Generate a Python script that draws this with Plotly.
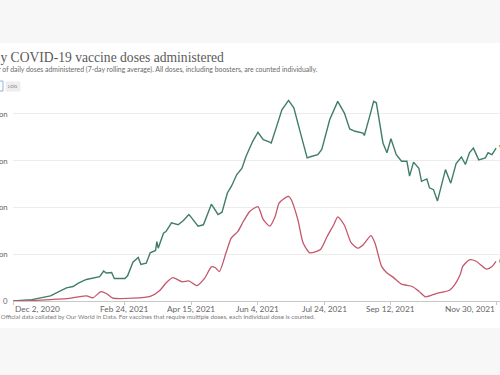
import plotly.graph_objects as go
import pandas as pd

START = pd.Timestamp("2020-12-02")

# days since Dec 2, 2020 and daily doses (millions), World
world_day = [0, 14, 28, 35, 40, 45, 49, 55, 65, 68, 70, 74, 76, 84, 86, 90, 94, 96, 100, 103,
             107, 108, 109, 113, 115, 119, 124, 128, 132, 133, 139, 143, 149, 154, 157, 161,
             164, 168, 172, 175, 180, 184, 188, 192, 194, 198, 202, 207, 211, 216, 221, 224,
             229, 232, 238, 244, 249, 253, 257, 263, 264, 268, 271, 273, 276, 278, 281, 284,
             288, 292, 296, 298, 301, 305, 307, 311, 313, 316, 319, 322, 325, 329, 333, 337,
             340, 343, 346, 350, 355, 357, 360, 362, 363]
world_val = [0.0, 0.3, 1.1, 2.0, 2.8, 3.1, 3.8, 4.6, 5.2, 6.4, 6.0, 6.1, 4.8, 4.8, 5.4, 8.3, 9.3,
             7.8, 8.1, 10.3, 10.8, 12.7, 11.3, 14.5, 14.9, 16.7, 16.3, 17.2, 18.5, 18.2, 16.0,
             16.3, 20.7, 18.5, 19.0, 23.1, 24.5, 27.0, 28.4, 30.9, 34.1, 36.1, 34.5, 34.1, 33.8,
             37.3, 40.9, 42.9, 41.3, 35.9, 30.6, 30.9, 31.3, 32.4, 38.8, 42.7, 40.2, 36.8, 36.3,
             35.9, 35.4, 39.5, 42.7, 42.4, 37.3, 33.8, 31.7, 34.7, 31.3, 29.9, 29.9, 26.7, 29.7,
             28.4, 25.6, 26.1, 24.2, 23.8, 21.4, 24.5, 28.1, 25.2, 29.4, 30.8, 29.2, 31.7, 32.7,
             30.2, 30.6, 31.7, 31.3, 32.2, 32.7]

# China
china_day = [0, 14, 28, 40, 55, 60, 66, 70, 75, 90, 103, 110, 115, 120, 127, 132, 138, 144, 149,
             152, 155, 160, 164, 169, 173, 178, 184, 188, 193, 197, 200, 207, 209, 214, 218, 223,
             231, 236, 241, 244, 249, 254, 259, 263, 269, 272, 277, 281, 286, 292, 300, 305, 310,
             318, 328, 332, 336, 338, 343, 348, 356, 360, 363]
china_val = [0.0, 0.1, 0.3, 0.5, 1.1, 0.7, 2.0, 1.6, 0.6, 0.6, 1.0, 2.2, 3.9, 5.0, 4.1, 4.3, 3.3,
             4.9, 7.3, 7.1, 6.3, 10.3, 13.5, 14.9, 17.0, 19.2, 20.2, 17.4, 16.0, 18.1, 21.0, 22.4,
             21.7, 17.4, 12.4, 10.3, 11.0, 13.8, 16.3, 18.0, 16.2, 12.5, 11.3, 12.0, 14.0, 12.4,
             7.4, 6.0, 5.0, 3.6, 3.1, 2.1, 0.9, 1.6, 2.3, 3.5, 5.6, 7.4, 8.8, 8.5, 6.8, 7.4, 8.5]

x_ticks = ["2020-12-02", "2021-02-24", "2021-04-15", "2021-06-04", "2021-07-24", "2021-09-12", "2021-11-30"]
x_tick_labels = ["Dec 2, 2020", "Feb 24, 2021", "Apr 15, 2021", "Jun 4, 2021", "Jul 24, 2021",
                 "Sep 12, 2021", "Nov 30, 2021"]
y_ticks = [0, 10, 20, 30, 40]
y_tick_labels = ["0", "10 million", "20 million", "30 million", "40 million"]

W, H = 500, 375
L, R, T, B = 13, 0, 95, 74
PW, PH = W - L - R, H - T - B

def px(xp):
    return (xp - L) / PW

def py(yp):
    return (H - B - yp) / PH

world_dates = [START + pd.Timedelta(days=d) for d in world_day]
china_dates = [START + pd.Timedelta(days=d) for d in china_day]

GREEN = "#3f7d6a"
RED = "#c4566b"

fig = go.Figure()
fig.add_trace(go.Scatter(x=world_dates, y=world_val, mode="lines", name="World",
                         line=dict(color=GREEN, width=1.4)))
fig.add_trace(go.Scatter(x=china_dates, y=china_val, mode="lines", name="China",
                         line=dict(color=RED, width=1.3, shape="spline", smoothing=0.6)))

font = "Lato, 'Open Sans', sans-serif"
ann = []
# title / subtitle (cropped on left)
ann.append(dict(text="Daily COVID-19 vaccine doses administered", xref="paper", yref="paper",
                x=px(-25), y=py(57), xanchor="left", yanchor="middle", showarrow=False,
                font=dict(family="Liberation Serif, serif", size=13.6, color="#5a5a5a")))
ann.append(dict(text="Number of daily doses administered (7-day rolling average). All doses, including boosters, are counted individually.",
                xref="paper", yref="paper", x=px(-26), y=py(69), xanchor="left", yanchor="middle",
                showarrow=False, font=dict(family=font, size=6.9, color="#6a6a6a")))
ann.append(dict(text="LOG", xref="paper", yref="paper", x=px(12.5), y=py(86), xanchor="center",
                yanchor="middle", showarrow=False, font=dict(family=font, size=4.5, color="#777"),
                bgcolor="#eeeeee", borderpad=2))
ann.append(dict(text="Source: Official data collated by Our World in Data. For vaccines that require multiple doses, each individual dose is counted.",
                xref="paper", yref="paper", x=px(-23), y=py(316), xanchor="left", yanchor="middle",
                showarrow=False, font=dict(family=font, size=6.2, color="#7a7a7a")))
# y labels
for v, t in zip(y_ticks, y_tick_labels):
    ann.append(dict(text=t, xref="paper", yref="y", x=px(10), y=v, xanchor="right", yanchor="middle",
                    showarrow=False, font=dict(family=font, size=7.8, color="#666")))
# x labels
for i, (d, t) in enumerate(zip(x_ticks, x_tick_labels)):
    anchor = "left" if i == 0 else ("right" if i == len(x_ticks) - 1 else "center")
    xv = d
    if i == len(x_ticks) - 1:
        xv = "2021-12-01"
    ann.append(dict(text=t, xref="x", yref="paper", x=xv, y=py(309), xanchor=anchor,
                    yanchor="middle", showarrow=False, font=dict(family=font, size=8.3, color="#666")))
# end labels (cropped)
ann.append(dict(text="World", xref="paper", yref="y", x=px(497), y=world_val[-1], xanchor="left",
                yanchor="middle", showarrow=False, font=dict(family=font, size=8, color="#555")))
ann.append(dict(text="China", xref="paper", yref="y", x=px(497), y=china_val[-1], xanchor="left",
                yanchor="middle", showarrow=False, font=dict(family=font, size=8, color="#555")))

shapes = [
    dict(type="rect", xref="paper", yref="paper", x0=px(-5), x1=px(505), y0=py(328), y1=py(43),
         fillcolor="white", line=dict(width=0), layer="below"),
    dict(type="rect", xref="paper", yref="paper", x0=px(-6), x1=px(3), y0=py(91), y1=py(81),
         fillcolor="white", line=dict(width=1, color="#8fb3d6"), layer="above"),
]

fig.update_layout(
    width=W, height=H, margin=dict(l=L, r=R, t=T, b=B),
    paper_bgcolor="#f7f7f7", plot_bgcolor="white",
    showlegend=False, annotations=ann, shapes=shapes,
    xaxis=dict(range=["2020-12-01 20:00", "2021-12-03"], tickvals=x_ticks, showticklabels=False,
               ticks="outside", ticklen=3, tickcolor="#c8c8c8", showgrid=False, showline=True,
               linecolor="#c8c8c8", linewidth=1, zeroline=False, fixedrange=True),
    yaxis=dict(range=[0, 44.06], tickvals=y_ticks, showticklabels=False, showgrid=True,
               gridcolor="#ececec", gridwidth=1, zeroline=False, showline=False, fixedrange=True),
)

fig.write_html("out.html", config={"displayModeBar": False},
               post_script="document.body.style.margin='0';document.body.style.overflow='hidden';")
